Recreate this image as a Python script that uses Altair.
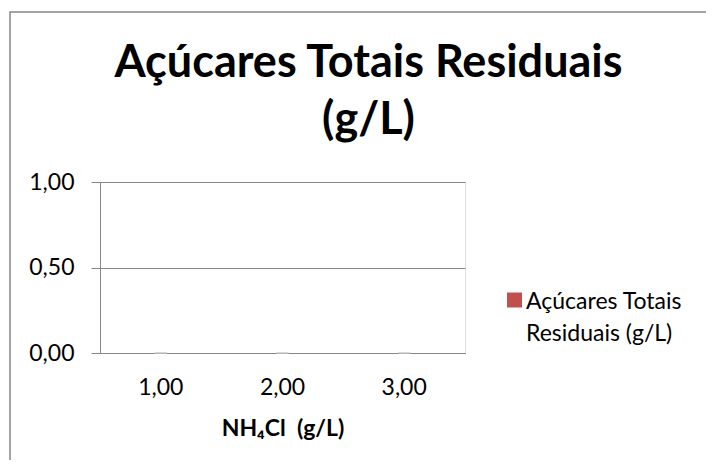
import altair as alt
import pandas as pd

# ---- data ----
categories = ["1,00", "2,00", "3,00"]
values = [0.0, 0.0, 0.0]
series_name = "Açúcares Totais Residuais (g/L)"
y_ticks = [0.0, 0.5, 1.0]
title_lines = ["Açúcares Totais Residuais", "(g/L)"]
x_title = "NH₄Cl\u00a0 (g/L)"

df = pd.DataFrame({"cat": categories, "val": values, "serie": [series_name] * len(categories)})
frame_df = pd.DataFrame({"k": [0]})

FONT = "Lato"
GRAY = "#868686"
RED = "#C0504D"

bars = alt.Chart(df).mark_bar(size=12, stroke="#c8c8c8", strokeWidth=1).encode(
    x=alt.X(
        "cat:N",
        sort=categories,
        title=x_title,
        scale=alt.Scale(paddingInner=0, paddingOuter=0),
        axis=alt.Axis(
            labelAngle=0, ticks=False, grid=False, domainColor=GRAY, domainWidth=1,
            labelFont=FONT, labelFontSize=23, labelColor="black", labelPadding=23,
            titleFont=FONT, titleFontSize=23, titleFontWeight="bold", titleColor="black",
            titlePadding=18,
        ),
    ),
    y=alt.Y(
        "val:Q",
        title=None,
        scale=alt.Scale(domain=[0, 1], nice=False),
        axis=alt.Axis(
            values=y_ticks, labelExpr="replace(format(datum.value, '.2f'), '.', ',')",
            domainColor=GRAY, tickColor=GRAY, tickSize=9, gridColor=GRAY, gridWidth=1,
            labelFont=FONT, labelFontSize=23, labelColor="black", labelPadding=17,
        ),
    ),
    color=alt.Color(
        "serie:N",
        scale=alt.Scale(range=[RED]),
        legend=alt.Legend(
            title=None, orient="none", legendX=403, legendY=115,
            symbolType="M-1,-2.133H1V-0.133H-1Z", symbolSize=225, symbolStrokeWidth=0,
            symbolFillColor=RED,
            labelFont=FONT, labelFontSize=23, labelColor="black", labelLimit=400,
            labelOffset=0, labelBaseline="alphabetic",
            labelExpr="[slice(datum.label, 0, 15), slice(datum.label, 16)]",
        ),
    ),
)

frame = alt.Chart(frame_df).mark_rect(filled=False, stroke=GRAY, strokeWidth=1.5).encode(
    x=alt.value(-90), x2=alt.value(640), y=alt.value(-170), y2=alt.value(300)
)

chart = alt.layer(frame, bars).properties(
    width=365,
    height=171,
    title=alt.Title(
        title_lines, font=FONT, fontSize=45, fontWeight="bold", color="black",
        anchor="middle", lineHeight=57, dx=86, dy=136,
    ),
    autosize=alt.AutoSizeParams(type="none"),
    padding={"left": 92, "top": 174, "right": 241, "bottom": 107},
).configure_view(stroke=None).configure(style={"guide-label": {"lineHeight": 32}})

chart.save("out.html", embed_options={"renderer": "svg", "actions": False})
